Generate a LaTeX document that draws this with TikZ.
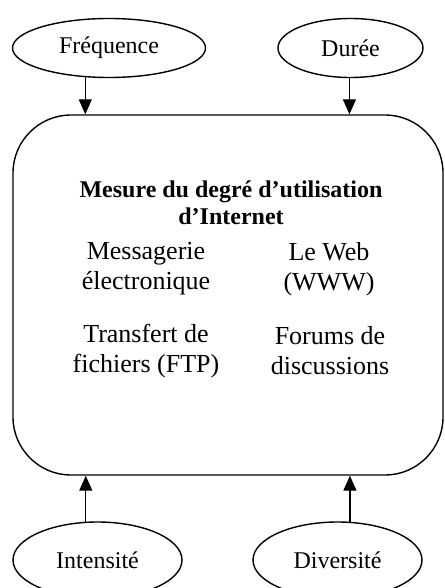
\documentclass[tikz,border=0pt]{standalone}
\usepackage{fontspec}
\setmainfont{Liberation Serif}
\usetikzlibrary{shapes.geometric,arrows.meta}
\begin{document}
\begin{tikzpicture}[x=1pt,y=-1pt,
  oval/.style={draw,ellipse,line width=1.4pt,inner sep=0pt,font=\fontsize{24}{27}\selectfont},
  mainbox/.style={draw,line width=1.4pt,rounded corners=58pt,minimum width=430pt,minimum height=360pt},
  bodytext/.style={align=center,font=\fontsize{26}{30}\selectfont},
  titletext/.style={align=center,font=\bfseries\fontsize{24}{27}\selectfont},
  conn/.style={line width=1.4pt,-{Triangle[length=15pt,width=13pt]}}]
\useasboundingbox (0,0) rectangle (444,588);
\node[mainbox] (box) at (228,295) {};
\node[oval,minimum width=193pt,minimum height=59pt] (fr) at (109,48) {Fréquence};
\node[oval,minimum width=145pt,minimum height=59pt] (du) at (350.5,48) {Durée};
\node[oval,minimum width=169pt,minimum height=76pt] (in) at (97.5,560) {Intensité};
\node[oval,minimum width=169pt,minimum height=76pt] (di) at (337.5,560) {Diversité};
\node[titletext] (title) at (231,203) {Mesure du degré d’utilisation\\d’Internet};
\node[bodytext] (msg) at (146,269) {Messagerie\\électronique};
\node[bodytext] (web) at (329,269) {Le Web\\(WWW)};
\node[bodytext] (ftp) at (146,351) {Transfert de\\fichiers (FTP)};
\node[bodytext] (forum) at (330,351) {Forums de\\discussions};
\draw[conn] (fr.231) -- (fr.231 |- box.north);
\draw[conn] (du.268) -- (du.268 |- box.north);
\draw[conn] (in.107) -- (in.107 |- box.south);
\draw[conn] (di.72) -- (di.72 |- box.south);
\end{tikzpicture}
\end{document}
